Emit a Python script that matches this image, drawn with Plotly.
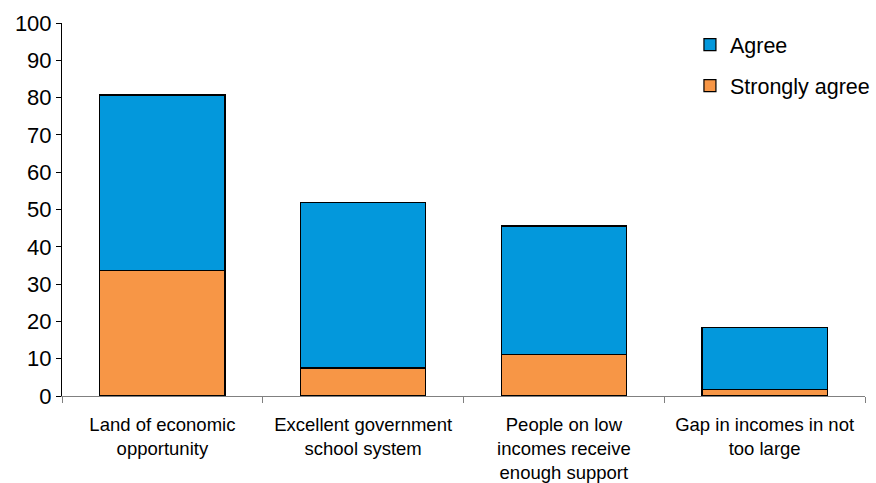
import plotly.graph_objects as go

# Survey statements and shares (%) of respondents
categories = [
    "Land of economic<br>opportunity",
    "Excellent government<br>school system",
    "People on low<br>incomes receive<br>enough support",
    "Gap in incomes in not<br>too large",
]
strongly_agree = [33.6, 7.5, 11.2, 1.8]
agree = [47.1, 44.3, 34.4, 16.5]

fig = go.Figure()
fig.add_trace(go.Bar(
    x=categories, y=strongly_agree, name="Strongly agree",
    marker=dict(color="#F79646", line=dict(color="black", width=1.2)),
    legendgroup="s", legendrank=2,
))
fig.add_trace(go.Bar(
    x=categories, y=agree, name="Agree",
    marker=dict(color="#0398DC", line=dict(color="black", width=1.2)),
    legendgroup="a", legendrank=1,
))

fig.update_layout(
    width=876, height=483,
    margin=dict(l=62, r=11, t=23, b=87, autoexpand=False),
    barmode="stack", bargap=0.377,
    plot_bgcolor="white", paper_bgcolor="white",
    font=dict(family="Liberation Sans, Arial, sans-serif", color="black"),
    legend=dict(
        x=0.782, y=0.997, xanchor="left", yanchor="top",
        traceorder="grouped", tracegroupgap=10,
        font=dict(size=21.5), bgcolor="rgba(0,0,0,0)",
    ),
    xaxis=dict(
        type="category", tickson="boundaries", ticks="outside", ticklen=6,
        tickcolor="#808080", showline=True, linecolor="#808080", linewidth=1,
        tickfont=dict(size=18.5), showgrid=False, ticklabelstandoff=12,
        automargin=False,
    ),
    yaxis=dict(
        range=[0, 100], dtick=10, ticks="outside", ticklen=5,
        tickcolor="black", showline=True, linecolor="black", linewidth=1,
        tickfont=dict(size=22), showgrid=False, zeroline=False,
        automargin=False,
    ),
)

fig.write_html("out.html")
